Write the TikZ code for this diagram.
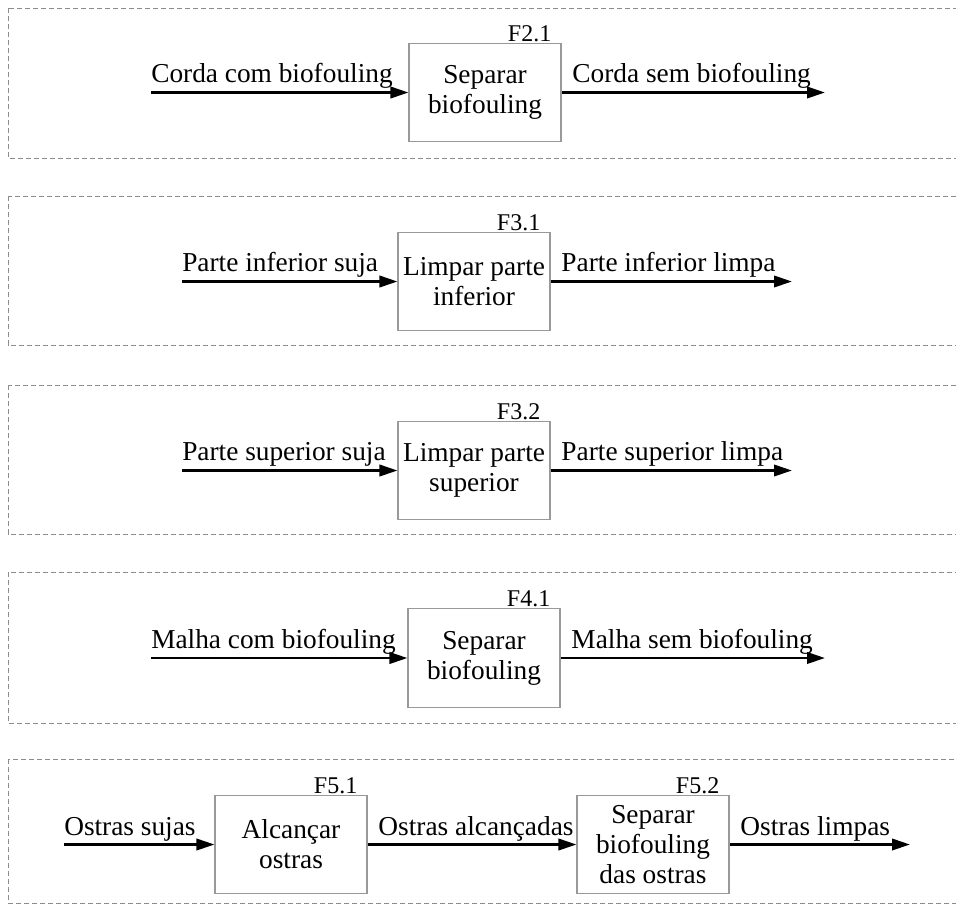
\documentclass[tikz,border=0pt]{standalone}
\usepackage{fontspec}
\setmainfont{Liberation Serif}
\usetikzlibrary{arrows.meta}
\begin{document}
\begin{tikzpicture}[x=0.75pt,y=-0.75pt,
 panel/.style={draw=black!45, dash pattern=on 4pt off 2pt, line width=0.6pt},
 fbox/.style={draw=black!40, line width=0.8pt, minimum width=114pt, minimum height=74pt, align=center, inner sep=0pt, font=\fontsize{20.5}{22.5}\selectfont},
 flow/.style={line width=2pt, -{Triangle[length=13.5pt,width=8.5pt]}},
 lab/.style={inner sep=0pt, anchor=base west, font=\fontsize{20.5}{22.5}\selectfont},
 fid/.style={inner sep=0pt, font=\fontsize{18}{20}\selectfont, anchor=base east}]
\useasboundingbox (0,0) rectangle (956,908);
% panels
\draw[panel] (8,8) rectangle (965,158);
\draw[panel] (8,196) rectangle (965,345);
\draw[panel] (8,385) rectangle (965,534);
\draw[panel] (8,572) rectangle (965,723);
\draw[panel] (8,759) rectangle (965,903);
% panel 1
\node[fbox] (b1) at (485,92.5) {Separar\\biofouling};
\coordinate (i1) at (151,92.5);
\coordinate (o1) at (825,92.5);
\draw[flow] (i1) -- (b1);
\draw[flow] (b1) -- (o1);
\node[lab] at ([yshift=7.5pt]i1) {Corda com biofouling};
\node[lab] at ([xshift=8pt,yshift=7.5pt]b1.east) {Corda sem biofouling};
\node[fid] at ([xshift=-7.5pt,yshift=1pt]b1.north east) {F2.1};
% panel 2
\node[fbox] (b2) at (474,281.5) {Limpar parte\\inferior};
\coordinate (i2) at (182,281.5);
\coordinate (o2) at (792,281.5);
\draw[flow] (i2) -- (b2);
\draw[flow] (b2) -- (o2);
\node[lab] at ([yshift=7.5pt]i2) {Parte inferior suja};
\node[lab] at ([xshift=8pt,yshift=7.5pt]b2.east) {Parte inferior limpa};
\node[fid] at ([xshift=-7.5pt,yshift=1pt]b2.north east) {F3.1};
% panel 3
\node[fbox] (b3) at (474,470.5) {Limpar parte\\superior};
\coordinate (i3) at (182,470.5);
\coordinate (o3) at (792,470.5);
\draw[flow] (i3) -- (b3);
\draw[flow] (b3) -- (o3);
\node[lab] at ([yshift=7.5pt]i3) {Parte superior suja};
\node[lab] at ([xshift=8pt,yshift=7.5pt]b3.east) {Parte superior limpa};
\node[fid] at ([xshift=-7.5pt,yshift=1pt]b3.north east) {F3.2};
% panel 4
\node[fbox] (b4) at (484,658) {Separar\\biofouling};
\coordinate (i4) at (151,658);
\coordinate (o4) at (825,658);
\draw[flow] (i4) -- (b4);
\draw[flow] (b4) -- (o4);
\node[lab] at ([yshift=7.5pt]i4) {Malha com biofouling};
\node[lab] at ([xshift=8pt,yshift=7.5pt]b4.east) {Malha sem biofouling};
\node[fid] at ([xshift=-7.5pt,yshift=1pt]b4.north east) {F4.1};
% panel 5
\node[fbox] (b5) at (291,844.5) {Alcançar\\ostras};
\node[fbox] (b6) at (653,844.5) {Separar\\biofouling\\das ostras};
\coordinate (i5) at (64,844.5);
\coordinate (o5) at (910,844.5);
\draw[flow] (i5) -- (b5);
\draw[flow] (b5) -- (b6);
\draw[flow] (b6) -- (o5);
\node[lab] at ([yshift=7pt]i5) {Ostras sujas};
\node[lab] at ([xshift=8pt,yshift=7pt]b5.east) {Ostras alcançadas};
\node[lab] at ([xshift=8pt,yshift=7pt]b6.east) {Ostras limpas};
\node[fid] at ([xshift=-7.5pt,yshift=1pt]b5.north east) {F5.1};
\node[fid] at ([xshift=-7.5pt,yshift=1pt]b6.north east) {F5.2};
\end{tikzpicture}
\end{document}
